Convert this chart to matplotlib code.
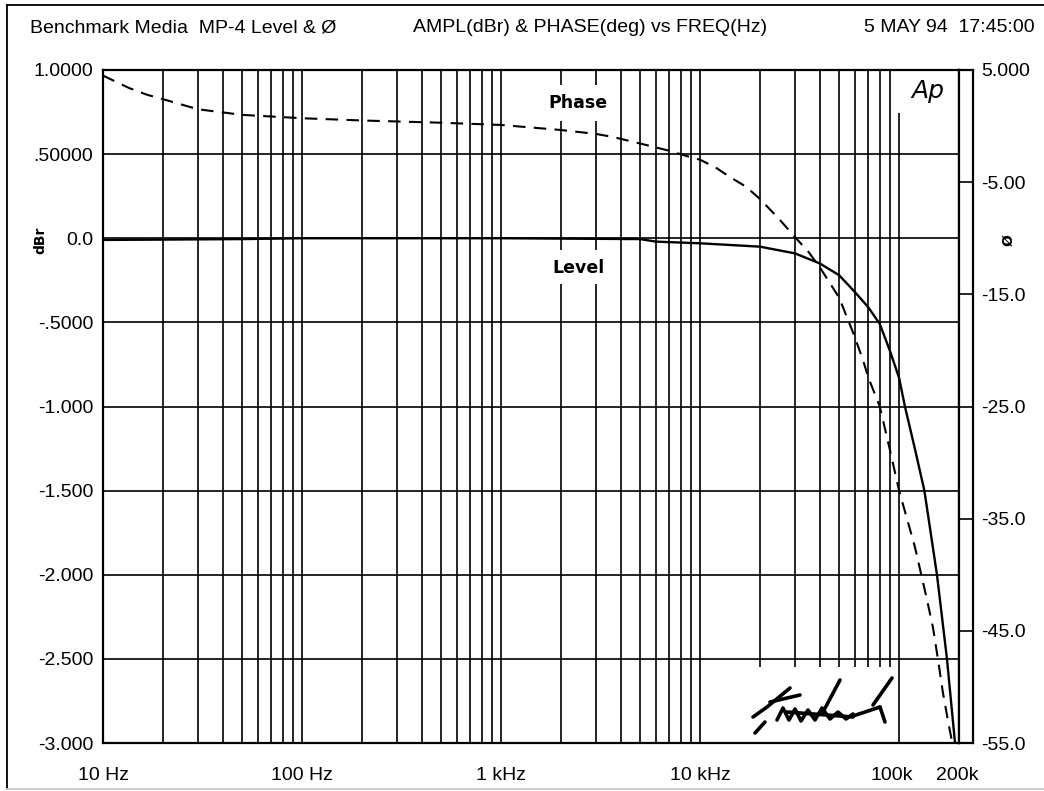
import numpy as np
import matplotlib
matplotlib.use("Agg")
import matplotlib.pyplot as plt
from matplotlib import font_manager as fm
from matplotlib.patches import Rectangle
from matplotlib.lines import Line2D
from matplotlib.transforms import blended_transform_factory, offset_copy

# ---------------- data ----------------
level_freq = [10, 20, 50, 100, 1000, 5000, 6000, 10000, 20000, 30000, 40000,
              50000, 60000, 70000, 80000, 90000, 100000, 107000, 120000,
              134000, 155000, 174000, 191000]
level_dbr = [-0.01, -0.008, -0.005, 0.0, 0.0, -0.005, -0.02, -0.03, -0.05,
             -0.09, -0.15, -0.22, -0.32, -0.41, -0.51, -0.67, -0.83, -1.0,
             -1.25, -1.5, -2.0, -2.5, -3.0]

phase_freq = [10, 13.5, 16.6, 20, 30, 50, 100, 200, 500, 1000, 2000, 3000,
              3650, 5400, 7000, 8900, 10000, 12000, 14000, 17000, 20000, 25000,
              30000, 35000, 40000, 50000, 59000, 66000, 70000, 80000, 90000,
              100000, 120000, 132000, 138000, 148000, 157000, 166000, 176000,
              185000]
phase_deg = [4.5, 3.4, 2.8, 2.4, 1.5, 1.0, 0.7, 0.5, 0.3, 0.1, -0.35, -0.7,
             -0.97, -1.7, -2.2, -2.76, -3.0, -3.7, -4.5, -5.4, -6.5, -8.3,
             -9.9, -11.2, -12.6, -15.3, -18.5, -20.9, -22.4, -25.0, -28.9,
             -32.5, -37.5, -40.7, -42.2, -44.7, -47.6, -50.5, -53.0, -55.0]

level_ticks = [1.0, 0.5, 0.0, -0.5, -1.0, -1.5, -2.0, -2.5, -3.0]
level_tick_labels = ["1.0000", ".50000", "0.0", "-.5000", "-1.000",
                     "-1.500", "-2.000", "-2.500", "-3.000"]
phase_ticks = [5, -5, -15, -25, -35, -45, -55]
phase_tick_labels = ["5.000", "-5.00", "-15.0", "-25.0", "-35.0", "-45.0", "-55.0"]
freq_ticks = [10, 100, 1000, 10000, 100000, 200000]
freq_tick_labels = ["10 Hz", "100 Hz", "1 kHz", "10 kHz", "100k", "200k"]
grid_freqs = [m * 10 ** d for d in range(1, 5) for m in range(1, 10)] + [100000]

title_left = "Benchmark Media  MP-4 Level & Ø"
title_mid = "AMPL(dBr) & PHASE(deg) vs FREQ(Hz)"
title_right = "5 MAY 94  17:45:00"

# ---------------- fonts ----------------
names = {f.name for f in fm.fontManager.ttflist}
FONT = "Liberation Sans" if "Liberation Sans" in names else "DejaVu Sans"
plt.rcParams["font.family"] = [FONT, "DejaVu Sans"]
FS = 14

W, H = 1044, 791
fig = plt.figure(figsize=(W / 100, H / 100), dpi=100)
fig.patch.set_facecolor("white")


def fx(px):
    return px / W


def fy(py):
    return 1 - py / H


L, R, T, B = 103, 959, 70, 743
ax = fig.add_axes([fx(L), fy(B), fx(R) - fx(L), fy(T) - fy(B)])
ax.set_xscale("log")
ax.set_xlim(10, 200000)
ax.set_ylim(-3, 1)
for s in ax.spines.values():
    s.set_linewidth(1.6)
    s.set_color("black")

GRID_LW = 1.2
for f in grid_freqs:
    ax.axvline(f, color="black", lw=GRID_LW, zorder=0.5)
for v in level_ticks[1:-1]:
    ax.axhline(v, color="black", lw=GRID_LW, zorder=0.5)

ax.set_yticks(level_ticks)
ax.set_yticklabels(level_tick_labels)
ax.tick_params(axis="y", length=0, pad=7, labelsize=FS)
ax.set_xticks([])
ax.xaxis.set_minor_locator(matplotlib.ticker.NullLocator())

# x labels
trans = blended_transform_factory(ax.transData, ax.transAxes)
label_shift = {"100k": -7, "200k": -2}
for f, lab in zip(freq_ticks, freq_tick_labels):
    t = offset_copy(trans, fig=fig, x=label_shift.get(lab, 0), y=-33, units="dots")
    ax.text(f, 0, lab, transform=t, ha="center", va="center", fontsize=FS)

# white boxes cutting the grid
def pix_rect(x0, y0, x1, y1, z=1.5):
    r = Rectangle((fx(x0), fy(y1)), fx(x1) - fx(x0), fy(y0) - fy(y1),
                  transform=fig.transFigure, facecolor="white",
                  edgecolor="none", zorder=z)
    ax.add_patch(r)

pix_rect(897, 71, 958, 113)      # Ap logo
pix_rect(720, 667, 898, 742)     # signature
pix_rect(545, 85, 612, 121)      # Phase label
pix_rect(548, 250, 610, 284)     # Level label

# level curve
ax.plot(level_freq, level_dbr, color="black", lw=1.7, zorder=3)

# phase curve on twin axis
axp = ax.twinx()
axp.set_ylim(-55, 5)
axp.set_yticks([])
for s in axp.spines.values():
    s.set_visible(False)
axp.plot(phase_freq, phase_deg, color="black", lw=1.5, dashes=(6, 4), zorder=3)

# right strip axis with phase scale
axr = fig.add_axes([fx(R), fy(B), fx(973) - fx(R), fy(T) - fy(B)])
axr.set_ylim(-55, 5)
axr.set_xticks([])
axr.set_yticks(phase_ticks)
axr.set_yticklabels(phase_tick_labels)
axr.yaxis.tick_right()
axr.tick_params(axis="y", length=0, pad=6, labelsize=FS)
for v in phase_ticks[1:-1]:
    axr.axhline(v, color="black", lw=GRID_LW)
for s in axr.spines.values():
    s.set_linewidth(1.6)

# curve labels
fig.text(fx(578), fy(103), "Phase", ha="center", va="center",
         fontsize=12.5, fontweight="bold", family="DejaVu Sans")
fig.text(fx(579), fy(268), "Level", ha="center", va="center",
         fontsize=12.5, fontweight="bold", family="DejaVu Sans")

# Ap logo
fig.text(fx(928), fy(91), "Ap", ha="center", va="center", fontsize=18,
         style="italic", family="DejaVu Sans", fontweight="light")

# axis names
fig.text(fx(40), fy(240), "dBr", rotation=90, ha="center", va="center",
         fontsize=10, fontweight="bold", family="DejaVu Sans")
fig.text(fx(1008), fy(240), "Ø", rotation=90, ha="center", va="center",
         fontsize=10, fontweight="bold", family="DejaVu Sans")

# title
fig.text(fx(30), fy(28), title_left, ha="left", va="center", fontsize=FS)
fig.text(fx(413), fy(28), title_mid, ha="left", va="center", fontsize=FS)
fig.text(fx(1035), fy(28), title_right, ha="right", va="center", fontsize=FS)

# signature scrawl (decoration)
sig_strokes = [
    [(755, 733), (765, 722)],
    [(753, 717), (767, 707), (790, 688)],
    [(770, 702), (800, 695)],
    [(777, 720), (783, 708), (789, 720), (795, 709), (801, 721), (808, 710),
     (815, 720), (822, 708), (830, 719), (838, 712), (846, 719), (853, 714)],
    [(787, 712), (853, 717)],
    [(823, 712), (840, 680)],
    [(853, 716), (880, 707)],
    [(873, 705), (892, 678)],
    [(880, 707), (885, 722)],
]
for st in sig_strokes:
    xs = [fx(p[0]) for p in st]
    ys = [fy(p[1]) for p in st]
    fig.add_artist(Line2D(xs, ys, color="black", lw=2.6,
                          transform=fig.transFigure, solid_capstyle="round"))

# outer border
fig.add_artist(Line2D([fx(7), fx(7)], [fy(5), fy(789)], color="black", lw=1.3,
                      transform=fig.transFigure))
fig.add_artist(Line2D([fx(7), fx(1044)], [fy(5), fy(5)], color="black", lw=1.3,
                      transform=fig.transFigure))
fig.add_artist(Line2D([fx(7), fx(1044)], [fy(789), fy(789)], color="#cccccc",
                      lw=1.3, transform=fig.transFigure))

fig.savefig("out.png", dpi=100, facecolor="white")
